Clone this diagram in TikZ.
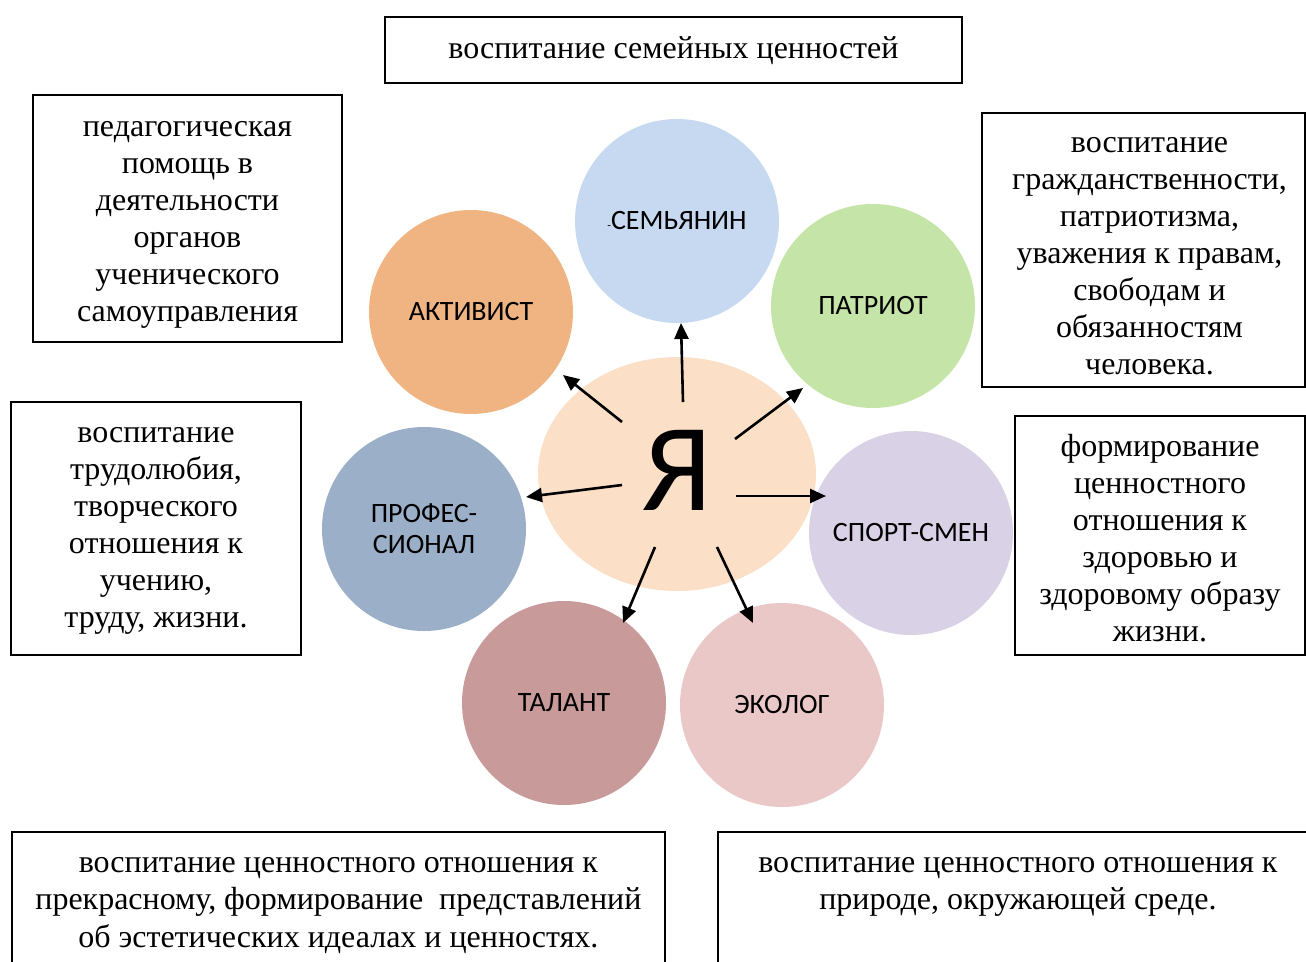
\documentclass[tikz,border=0pt]{standalone}
\usepackage{fontspec}
\setmainfont{Liberation Serif}
\newfontfamily\calib{Carlito}
\usetikzlibrary{arrows.meta,shapes.geometric}
\definecolor{cSem}{HTML}{C6D9F1}
\definecolor{cPat}{HTML}{C5E4A7}
\definecolor{cAkt}{HTML}{F0B483}
\definecolor{cPro}{HTML}{9BAFC9}
\definecolor{cSpo}{HTML}{D9D1E6}
\definecolor{cTal}{HTML}{C99A9A}
\definecolor{cEko}{HTML}{EBC8C8}
\definecolor{cYa}{HTML}{FBDFC6}
\begin{document}
\begin{tikzpicture}[x=1pt,y=-1pt,
  box/.style={draw, line width=1.8pt, inner sep=0pt},
  txt/.style={inner sep=0pt, align=center, font=\fontsize{32}{37}\selectfont},
  btxt/.style={txt, font=\fontsize{32}{37.5}\selectfont},
  circ/.style={circle, minimum size=204pt, inner sep=0pt, align=center, font=\calib\fontsize{28}{31}\selectfont},
  arr/.style={line width=2.6pt, -{Triangle[length=16pt,width=14pt]}}]
\useasboundingbox (0,0) rectangle (1306,961);
\clip (0,0) rectangle (1306,961);
\fill[white] (0,0) rectangle (1306,961);

% text boxes
\node[box, minimum width=577pt, minimum height=66pt] (bFam) at (673.5,50) {};
\node[txt] (tFam) at ([yshift=-1pt]bFam.center) {воспитание семейных ценностей};
\node[box, minimum width=309pt, minimum height=247pt] (bPed) at (187.5,218.5) {};
\node[txt] (tPed) at ([yshift=-6pt]bPed.center) {педагогическая\\помощь в\\деятельности\\органов\\ученического\\самоуправления};
\node[box, minimum width=323pt, minimum height=274pt] (bGra) at (1143.5,250) {};
\node[txt] (tGra) at ([xshift=6pt,yshift=-6pt]bGra.center) {воспитание\\гражданственности,\\патриотизма,\\уважения к правам,\\свободам и\\обязанностям\\человека.};
\node[box, minimum width=290pt, minimum height=253pt] (bTru) at (156,528.5) {};
\node[txt] (tTru) at ([yshift=-2.5pt]bTru.center) {воспитание\\трудолюбия,\\творческого\\отношения к\\учению,\\труду, жизни.};
\node[box, minimum width=290pt, minimum height=239pt] (bZdo) at (1160,535.5) {};
\node[txt] (tZdo) at ([yshift=-2.5pt]bZdo.center) {формирование\\ценностного\\отношения к\\здоровью и\\здоровому образу\\жизни.};
\node[box, minimum width=653pt, minimum height=170pt, anchor=north west] (bEst) at (11,831) {};
\node[btxt, anchor=north] (tEst) at ([yshift=-26pt]bEst.north) {воспитание ценностного отношения к\\прекрасному, формирование~ представлений\\об эстетических идеалах и ценностях.};
\node[box, minimum width=600pt, minimum height=170pt, anchor=north west] (bPri) at (717,831) {};
\node[btxt, anchor=north] (tPri) at ([yshift=-26pt]bPri.north) {воспитание ценностного отношения к\\природе, окружающей среде.};

% circles
\node[circ, fill=cSem] (sem) at (677,221) {{\fontsize{12}{12}\selectfont -}СЕМЬЯНИН};
\node[circ, fill=cPat] (pat) at (873,306) {ПАТРИОТ};
\node[circ, fill=cAkt] (akt) at (471,312) {АКТИВИСТ};
\node[circ, fill=cPro] (pro) at (424,529) {ПРОФЕС-\\СИОНАЛ};
\node[circ, fill=cSpo] (spo) at (911,533) {СПОРТ-СМЕН};
\node[circ, fill=cTal] (tal) at (564,703) {ТАЛАНТ};
\node[circ, fill=cEko] (eko) at (782,705) {ЭКОЛОГ};
\node[ellipse, fill=cYa, minimum width=278pt, minimum height=234pt, inner sep=0pt, text depth=8pt, font=\calib\fontsize{125}{125}\selectfont] (ya) at (677,474) {Я};

% arrows
\coordinate (s1) at (683,402); \coordinate (e1) at (681,323);
\coordinate (s2) at (622,422); \coordinate (e2) at (563,375);
\coordinate (s3) at (735,439); \coordinate (e3) at (803,388);
\coordinate (s4) at (622,485); \coordinate (e4) at (526,497);
\coordinate (s5) at (736,496); \coordinate (e5) at (826,496);
\coordinate (s6) at (655,547); \coordinate (e6) at (623,623);
\coordinate (s7) at (717,547); \coordinate (e7) at (753,623);
\foreach \i in {1,...,7} \draw[arr] (s\i) -- (e\i);
\end{tikzpicture}
\end{document}
